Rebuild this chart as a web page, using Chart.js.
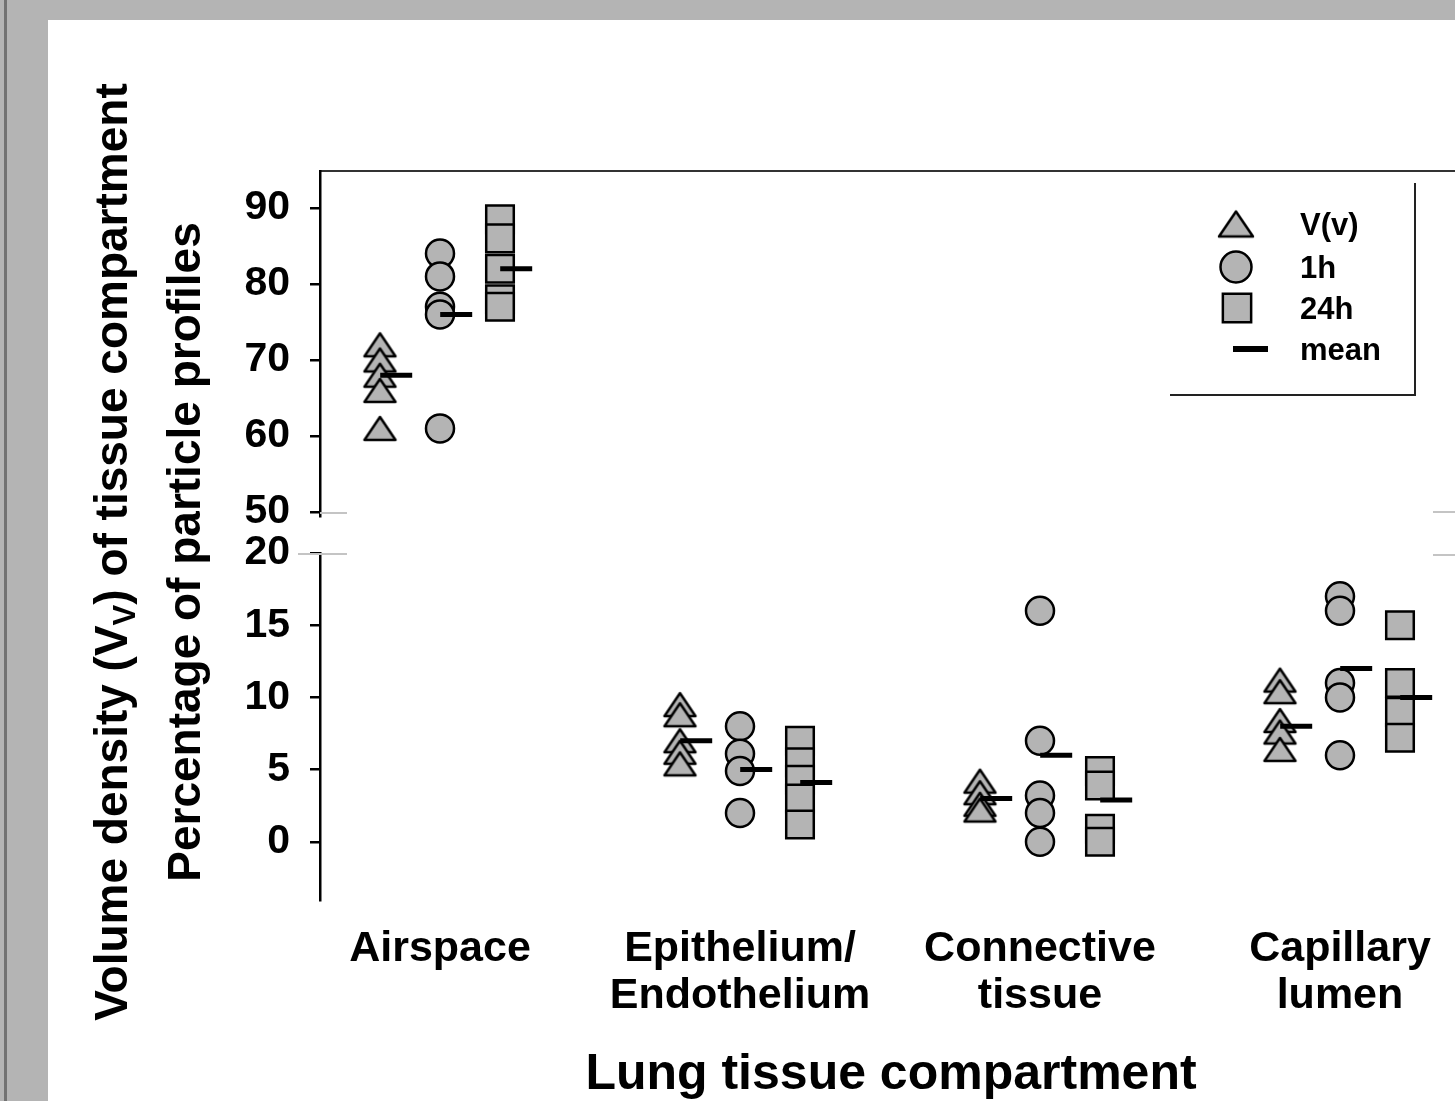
<!DOCTYPE html>
<html>
<head>
<meta charset="utf-8">
<script src="https://cdn.jsdelivr.net/npm/chart.js@4/dist/chart.umd.min.js"></script>
<style>
html, body { margin: 0; padding: 0; overflow: hidden; background: #b4b4b4; width: 1455px; height: 1101px; }
#edge { position: absolute; left: 4px; top: 0; width: 3px; height: 1101px; background: #727272; }
#panel { position: absolute; left: 48px; top: 20px; width: 1500px; height: 1200px; background: #ffffff; }
#wrap { position: absolute; left: 0; top: 0; width: 1484px; height: 1101px; }
</style>
</head>
<body>
<div id="edge"></div>
<div id="panel"></div>
<div id="wrap"><canvas id="c" width="1484" height="1101"></canvas></div>
<script>
// ---------------- data ----------------
const categories = [["Airspace"], ["Epithelium/", "Endothelium"], ["Connective", "tissue"], ["Capillary", "lumen"]];
const seriesNames = ["V(v)", "1h", "24h", "mean"];
const valuesVv  = [[72, 70, 68, 66, 61], [9.5, 8.8, 7.0, 6.2, 5.4], [4.2, 3.4, 2.6, 2.2], [11.2, 10.4, 8.4, 7.6, 6.4]];
const values1h  = [[84, 81, 77, 76, 61], [8.0, 6.1, 4.9, 2.0], [16, 7.0, 3.2, 2.0, 0], [17, 16, 11, 10, 6]];
const values24h = [[88.5, 86, 82, 78, 77], [7.0, 5.5, 4.3, 3.0, 1.2], [4.9, 3.9, 0.9, 0], [15, 11, 9, 7.2]];
const meanVv  = [68, 7, 3, 8];
const mean1h  = [76, 5, 6, 12];
const mean24h = [82, 4.1, 2.9, 10];
const upperTicks = [50, 60, 70, 80, 90];
const lowerTicks = [0, 5, 10, 15, 20];
const upperCategory = 0; // category drawn on the upper (50-95) segment of the broken axis

// ---------------- styles ----------------
const FONT = "'Liberation Sans', Arial, Helvetica, sans-serif";
const FILL = '#b4b4b4';
const seriesOffset = [-0.2, 0, 0.2];
const meanShift = 0.054;

function makeTriangle(w, h, lw) {
  const pad = 4;
  const c = document.createElement('canvas');
  c.width = Math.round(w + 2 * pad);
  c.height = Math.round(h + 2 * pad);
  const g = c.getContext('2d');
  g.beginPath();
  g.moveTo(c.width / 2, pad);
  g.lineTo(pad + w, pad + h);
  g.lineTo(pad, pad + h);
  g.closePath();
  g.fillStyle = FILL;
  g.fill();
  g.lineJoin = 'round';
  g.lineWidth = lw;
  g.strokeStyle = '#000';
  g.stroke();
  return c;
}
const triData = makeTriangle(31, 23, 2.5);
const triLegend = makeTriangle(34, 25, 2.5);

function pts(vals, off, upper) {
  const out = [];
  vals.forEach((arr, i) => {
    if ((i === upperCategory) === upper) arr.forEach(v => out.push({ x: i + 1 + off, y: v }));
  });
  return out;
}
function meanPts(means, off, upper) {
  const out = [];
  means.forEach((v, i) => {
    if ((i === upperCategory) === upper) out.push({ x: i + 1 + off + meanShift, y: v });
  });
  return out;
}

const markerStyles = [
  { pointStyle: triData, pointRadius: 16 },
  { pointStyle: 'circle', pointRadius: 14 },
  { pointStyle: 'rect', pointRadius: 19.5 }
];
const seriesValues = [valuesVv, values1h, values24h];
const seriesMeans = [meanVv, mean1h, mean24h];

const datasets = [];
[true, false].forEach(upper => {
  seriesValues.forEach((vals, s) => {
    datasets.push(Object.assign({
      label: seriesNames[s],
      data: pts(vals, seriesOffset[s], upper),
      yAxisID: upper ? 'yU' : 'yL',
      backgroundColor: FILL,
      borderColor: '#000',
      borderWidth: 2.5,
      pointBorderWidth: 2.5,
      order: 2
    }, markerStyles[s]));
  });
  seriesMeans.forEach((m, s) => {
    datasets.push({
      label: seriesNames[3],
      data: meanPts(m, seriesOffset[s], upper),
      yAxisID: upper ? 'yU' : 'yL',
      pointStyle: 'line',
      pointRadius: 16,
      borderColor: '#000',
      backgroundColor: '#000',
      borderWidth: 5,
      pointBorderWidth: 5,
      order: 1
    });
  });
});

// ---------------- plugins ----------------
const yTitles = {
  id: 'yTitles',
  afterDraw(chart) {
    const ctx = chart.ctx;
    function drawRot(x, cy, parts) {
      ctx.save();
      ctx.translate(x, cy);
      ctx.rotate(-Math.PI / 2);
      ctx.fillStyle = '#000';
      ctx.textBaseline = 'alphabetic';
      ctx.textAlign = 'left';
      let total = 0;
      parts.forEach(p => { ctx.font = 'bold ' + p.s + 'px ' + FONT; p.w = ctx.measureText(p.t).width; total += p.w; });
      let pos = -total / 2;
      parts.forEach(p => { ctx.font = 'bold ' + p.s + 'px ' + FONT; ctx.fillText(p.t, pos, p.dy || 0); pos += p.w; });
      ctx.restore();
    }
    drawRot(127, 552, [
      { t: 'Volume density (V', s: 46 },
      { t: 'V', s: 31, dy: 8 },
      { t: ') of tissue compartment', s: 46 }
    ]);
    drawRot(200, 552, [{ t: 'Percentage of particle profiles', s: 46 }]);
  }
};

const boxLegend = {
  id: 'boxLegend',
  afterDraw(chart) {
    const ctx = chart.ctx;
    const top = chart.chartArea.top;
    ctx.save();
    ctx.strokeStyle = '#222';
    ctx.lineWidth = 2;
    ctx.beginPath();
    ctx.moveTo(1415, top + 12);
    ctx.lineTo(1415, top + 224);
    ctx.lineTo(1170, top + 224);
    ctx.stroke();
    const mx = 1236, tx = 1300;
    const rows = [top + 53, top + 96, top + 137, top + 178];
    ctx.fillStyle = FILL;
    ctx.strokeStyle = '#000';
    ctx.lineWidth = 2.5;
    Chart.helpers.drawPoint(ctx, { pointStyle: triLegend, radius: 18, borderWidth: 2.5, rotation: 0 }, mx, rows[0]);
    Chart.helpers.drawPoint(ctx, { pointStyle: 'circle', radius: 15.5, borderWidth: 2.5, rotation: 0 }, mx, rows[1]);
    Chart.helpers.drawPoint(ctx, { pointStyle: 'rect', radius: 20, borderWidth: 2.5, rotation: 0 }, mx + 1, rows[2]);
    ctx.lineWidth = 6;
    ctx.beginPath();
    ctx.moveTo(mx - 3, rows[3]);
    ctx.lineTo(mx + 32, rows[3]);
    ctx.stroke();
    ctx.fillStyle = '#000';
    ctx.font = 'bold 31px ' + FONT;
    ctx.textBaseline = 'middle';
    ctx.textAlign = 'left';
    seriesNames.forEach((n, i) => ctx.fillText(n, tx, rows[i] + 2));
    ctx.restore();
  }
};

const breakMarks = {
  id: 'breakMarks',
  afterDraw(chart) {
    const ctx = chart.ctx;
    const yU = chart.scales.yU, yL = chart.scales.yL;
    const left = chart.chartArea.left;
    ctx.save();
    ctx.strokeStyle = '#c4c4c4';
    ctx.lineWidth = 2;
    ctx.beginPath();
    ctx.moveTo(left, yU.bottom - 3); ctx.lineTo(left + 27, yU.bottom - 3);
    ctx.moveTo(left - 22, yL.top + 1); ctx.lineTo(left + 27, yL.top + 1);
    ctx.moveTo(1433, yU.bottom - 4); ctx.lineTo(1460, yU.bottom - 4);
    ctx.moveTo(1433, yL.top + 2); ctx.lineTo(1460, yL.top + 2);
    ctx.stroke();
    ctx.restore();
  }
};

// ---------------- chart ----------------
Chart.defaults.font.family = FONT;
Chart.defaults.font.weight = 'bold';
Chart.defaults.color = '#000';

const yCommon = {
  type: 'linear',
  position: 'left',
  stack: 'left',
  ticks: { font: { size: 41, weight: 'bold' }, padding: 20, color: '#000', autoSkip: false },
  grid: { display: true, drawOnChartArea: false, drawTicks: true, tickLength: 10, color: '#000', lineWidth: 2.5 },
  border: { display: true, color: '#000', width: 2.5 },
  afterFit(s) { s.width = 320; }
};

// left-side stacked scales are laid out bottom-first, so the lower segment is declared first
new Chart(document.getElementById('c'), {
  type: 'scatter',
  data: { datasets },
  plugins: [yTitles, boxLegend, breakMarks],
  options: {
    responsive: false,
    animation: false,
    events: [],
    layout: { padding: { top: 171, right: 10, bottom: 0, left: 0 } },
    plugins: { legend: { display: false }, tooltip: { enabled: false } },
    scales: {
      x: {
        type: 'linear', position: 'bottom', min: 0.6, max: 4.4067,
        afterBuildTicks(s) { s.ticks = categories.map((c, i) => ({ value: i + 1 })); },
        ticks: {
          callback: v => categories[Math.round(v) - 1],
          font: { size: 43, weight: 'bold', lineHeight: 1.1 },
          padding: 25, color: '#000', autoSkip: false, maxRotation: 0, minRotation: 0
        },
        grid: { display: false, drawTicks: false, tickLength: 0 },
        border: { display: false },
        title: {
          display: true, text: 'Lung tissue compartment', color: '#000',
          font: { size: 50, weight: 'bold', lineHeight: 1 }, padding: { top: 0, bottom: 1 }
        },
        afterFit(s) { s.height = 201; }
      },
      xTop: {
        type: 'linear', position: 'top', min: 0.6, max: 4.4067,
        ticks: { display: false },
        grid: { display: false, drawTicks: false },
        border: { display: true, color: '#333', width: 2 },
        afterFit(s) { s.height = 0; }
      },
      yL: Object.assign({}, yCommon, {
        stackWeight: 347, min: -4.03, max: 20,
        afterBuildTicks(s) { s.ticks = lowerTicks.map(v => ({ value: v })); }
      }),
      ySpace: {
        type: 'linear', position: 'left', stack: 'left', stackWeight: 37,
        ticks: { display: false }, grid: { display: false }, border: { display: false },
        afterFit(s) { s.width = 320; }
      },
      yU: Object.assign({}, yCommon, {
        stackWeight: 345, min: 49.47, max: 94.87,
        afterBuildTicks(s) { s.ticks = upperTicks.map(v => ({ value: v })); }
      })
    }
  }
});
</script>
</body>
</html>
